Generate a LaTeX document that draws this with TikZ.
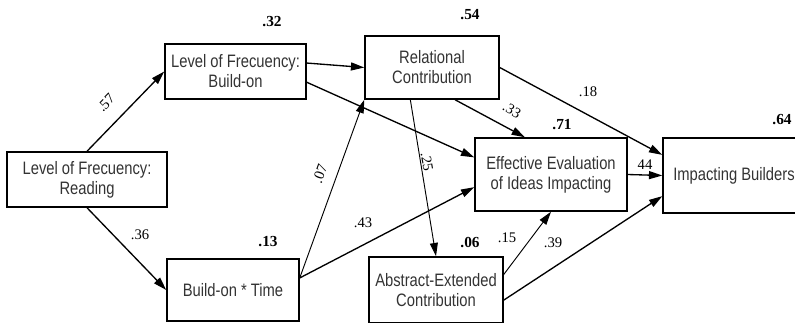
\documentclass[tikz,border=0pt]{standalone}
\usepackage{fontspec}
\setmainfont{Liberation Serif}
\newfontfamily\boxfont[FakeStretch=0.82]{Liberation Sans}
\usetikzlibrary{arrows.meta,calc}

\begin{document}
\begin{tikzpicture}[x=0.75pt,y=-0.75pt,
    var/.style={draw, line width=1.1pt, align=center, text=black!80,
        font=\boxfont\fontsize{13.5}{15}\selectfont, inner sep=0pt},
    link/.style={-{Triangle[length=10pt,width=6pt]}, line width=1pt},
    coef/.style={font=\fontsize{11}{12}\selectfont, inner sep=0pt},
    rsq/.style={font=\bfseries\fontsize{11.5}{12}\selectfont, inner sep=1pt}]
    \clip (0,0) rectangle (795,322);

    % Variables
    \node[var, minimum width=120pt, minimum height=41.25pt] (read) at (87,179.5)
        {Level of Frecuency:\\Reading};
    \node[var, minimum width=105.75pt, minimum height=41.25pt] (bon) at (235.5,71.5)
        {Level of Frecuency:\\Build-on};
    \node[var, minimum width=99pt, minimum height=46.5pt] (bot) at (233,290)
        {Build-on * Time};
    \node[var, minimum width=100.5pt, minimum height=47.25pt] (rel) at (432,67.5)
        {Relational\\Contribution};
    \node[var, minimum width=114pt, minimum height=54.75pt] (eff) at (551,174.5)
        {Effective Evaluation\\of Ideas Impacting};
    \node[var, minimum width=106.5pt, minimum height=56.25pt] (imp) at (734,175.5)
        {Impacting Builders};
    \node[var, minimum width=100.5pt, minimum height=49.5pt] (abs) at (436,290)
        {Abstract-Extended\\Contribution};

    % Explained variance
    \node[rsq] (r2bon) at (272,22) {.32};
    \node[rsq] (r2rel) at (470,15) {.54};
    \node[rsq] (r2eff) at (562,125) {.71};
    \node[rsq] (r2imp) at (782,120) {.64};
    \node[rsq] (r2bot) at (268,242) {.13};
    \node[rsq] (r2abs) at (470,243) {.06};

    % Paths
    \draw[link] (read.north) -- (bon.west);
    \draw[link] (read.south) -- (bot.west);
    \draw[link] ($(bon.north east)!0.35!(bon.south east)$) -- (rel.west);
    \draw[link] ($(bon.north east)!0.69!(bon.south east)$) -- ($(eff.north west)!0.27!(eff.south west)$);
    \draw[link, line width=0.7pt] ($(bot.north east)!0.31!(bot.south east)$) -- (rel.south west);
    \draw[link] ($(bot.north east)!0.31!(bot.south east)$) -- ($(eff.north west)!0.67!(eff.south west)$);
    \draw[link, line width=0.7pt] ($(rel.south west)!0.34!(rel.south east)$) -- (abs.north);
    \draw[link] ($(rel.south west)!0.67!(rel.south east)$) -- ($(eff.north west)!0.33!(eff.north east)$);
    \draw[link] (rel.east) -- ($(imp.north west)!0.23!(imp.south west)$);
    \draw[link] (eff.east) -- (imp.west);
    \draw[link, line width=0.7pt] ($(abs.north east)!0.27!(abs.south east)$) -- (eff.south);
    \draw[link] ($(abs.north east)!0.65!(abs.south east)$) -- ($(imp.north west)!0.77!(imp.south west)$);

    % Coefficients
    \node[coef, rotate=46] (c57) at (106,103) {.57};
    \node[coef] (c36) at (140,235) {.36};
    \node[coef, rotate=70] (c07) at (320,174) {.07};
    \node[coef] (c43) at (363,223) {.43};
    \node[coef, rotate=-30] (c33) at (512,110) {.33};
    \node[coef] (c18) at (588,92) {.18};
    \node[coef, rotate=-80] (c25) at (427,162) {.25};
    \node[coef] (c44) at (645,165) {44};
    \node[coef] (c15) at (507,238) {.15};
    \node[coef] (c39) at (553,243) {.39};
\end{tikzpicture}
\end{document}
